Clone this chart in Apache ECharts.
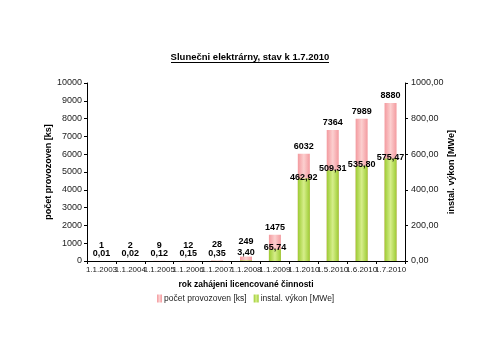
<!DOCTYPE html>
<html><head><meta charset="utf-8">
<script src="https://cdn.jsdelivr.net/npm/echarts@6/dist/echarts.min.js"></script>
<style>html,body{margin:0;padding:0;background:#fff}#c{width:500px;height:353px}</style>
</head><body><div id="c"></div>
<script>
var categories = ['1.1.2003','1.1.2004','1.1.2005','1.1.2006','1.1.2007','1.1.2008','1.1.2009','1.1.2010','1.5.2010','1.6.2010','1.7.2010'];
var pocet = [1, 2, 9, 12, 28, 249, 1475, 6032, 7364, 7989, 8880];
var vykon = [0.01, 0.02, 0.12, 0.15, 0.35, 3.40, 65.74, 462.92, 509.31, 535.80, 575.47];
var leftTicks = [0, 1000, 2000, 3000, 4000, 5000, 6000, 7000, 8000, 9000, 10000];
var rightTicks = [0, 200, 400, 600, 800, 1000];

var FONT = 'Liberation Sans, Arial, sans-serif';
function fmt2(v){ return v.toFixed(2).replace('.', ','); }

var pinkGrad = new echarts.graphic.LinearGradient(0,0,1,0,[
  {offset:0,color:'#f39a9f'},{offset:0.5,color:'#fccfcf'},{offset:1,color:'#f39a9f'}]);
var greenGrad = new echarts.graphic.LinearGradient(0,0,1,0,[
  {offset:0,color:'#9ccb32'},{offset:0.5,color:'#d6ee8a'},{offset:1,color:'#9ccb32'}]);

var pocetData = pocet.map(function(v){
  return v < 300 ? {value:v, label:{offset:[0,-8]}} : v;
});
var vykonData = vykon.map(function(v){
  return v < 20 ? {value:v, label:{offset:[0,-6]}} : v;
});

var chart = echarts.init(document.getElementById('c'));
chart.setOption({
  animation:false,
  textStyle:{fontFamily:FONT},
  title:{text:'Slunečni elektrárny, stav k 1.7.2010', left:'center', top:47,
    textStyle:{fontSize:9.5, fontWeight:'bold', color:'#000', fontFamily:FONT}},
  graphic:[{type:'line', shape:{x1:171,y1:62.5,x2:329,y2:62.5}, style:{stroke:'#000', lineWidth:1}}],
  grid:{left:87, right:95, top:83, bottom:92},
  legend:{bottom:45, left:152, itemWidth:5, itemHeight:8, itemGap:7,
    icon:'rect', textStyle:{fontSize:8.5, color:'#222', fontFamily:FONT, padding:[0,0,0,-3]},
    data:['počet provozoven [ks]','instal. výkon [MWe]']},
  xAxis:{type:'category', data:categories,
    name:'rok zahájeni licencované činnosti', nameLocation:'middle', nameGap:19, nameMoveOverlap:false,
    nameTextStyle:{fontSize:8.5, fontWeight:'bold', color:'#000'},
    axisLine:{lineStyle:{color:'#000'}},
    axisTick:{show:true, length:3, lineStyle:{color:'#000'}},
    axisLabel:{interval:0, fontSize:8, color:'#222', margin:5}},
  yAxis:[{type:'value', min:0, max:10000, interval:1000,
      name:'počet provozoven [ks]', nameLocation:'middle', nameGap:34, nameRotate:90, nameMoveOverlap:false,
      nameTextStyle:{fontSize:9, fontWeight:'bold', color:'#000'},
      axisLine:{show:true, lineStyle:{color:'#000'}},
      axisTick:{show:true, length:3, lineStyle:{color:'#000'}},
      splitLine:{show:false},
      axisLabel:{fontSize:9, color:'#222', margin:5, formatter:function(v){return String(v);}}},
    {type:'value', min:0, max:1000, interval:200, position:'right',
      name:'instal. výkon [MWe]', nameLocation:'middle', nameGap:42, nameRotate:90, nameMoveOverlap:false,
      nameTextStyle:{fontSize:9, fontWeight:'bold', color:'#000'},
      axisLine:{show:true, lineStyle:{color:'#000'}},
      axisTick:{show:true, length:3, lineStyle:{color:'#000'}},
      splitLine:{show:false},
      axisLabel:{fontSize:9, color:'#222', margin:6, formatter:function(v){return fmt2(v);}}}],
  series:[
    {name:'počet provozoven [ks]', type:'bar', yAxisIndex:0, data:pocetData, barWidth:12,
      itemStyle:{color:pinkGrad}, z:2,
      label:{show:true, position:'top', distance:3, fontSize:9, fontWeight:'bold', color:'#000'}},
    {name:'instal. výkon [MWe]', type:'bar', yAxisIndex:1, data:vykonData, barWidth:12, barGap:'-100%',
      itemStyle:{color:greenGrad}, z:3,
      label:{show:true, position:'top', distance:-3, fontSize:9, fontWeight:'bold', color:'#000',
        formatter:function(p){return fmt2(p.value);}}}
  ]
});
</script></body></html>
